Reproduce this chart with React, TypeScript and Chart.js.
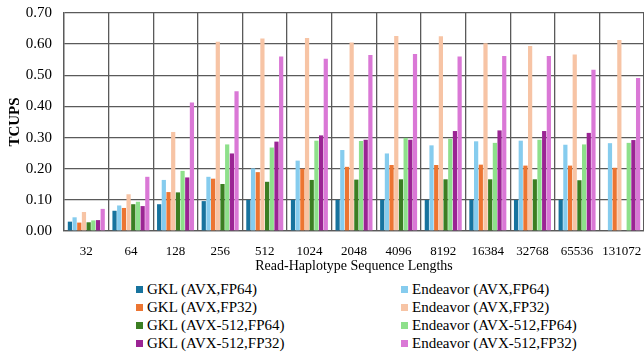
import React, { useEffect, useRef } from "react";
import { Chart, registerables } from "chart.js";

Chart.register(...registerables);

const categories = ["32", "64", "128", "256", "512", "1024", "2048", "4096", "8192", "16384", "32768", "65536", "131072"];

const gklAvxFp64 = [0.030, 0.065, 0.086, 0.096, 0.100, 0.100, 0.100, 0.100, 0.100, 0.100, 0.100, 0.100, null];
const endAvxFp64 = [0.044, 0.082, 0.164, 0.174, 0.201, 0.226, 0.260, 0.249, 0.275, 0.288, 0.290, 0.277, 0.282];
const gklAvxFp32 = [0.027, 0.074, 0.125, 0.168, 0.189, 0.200, 0.206, 0.212, 0.212, 0.213, 0.210, 0.210, 0.203];
const endAvxFp32 = [0.061, 0.118, 0.318, 0.608, 0.618, 0.620, 0.605, 0.626, 0.625, 0.603, 0.594, 0.567, 0.613];
const gklAvx512Fp64 = [0.028, 0.086, 0.124, 0.151, 0.158, 0.164, 0.165, 0.166, 0.166, 0.166, 0.166, 0.163, null];
const endAvx512Fp64 = [0.034, 0.094, 0.193, 0.278, 0.268, 0.290, 0.289, 0.299, 0.296, 0.283, 0.293, 0.278, 0.283];
const gklAvx512Fp32 = [0.035, 0.080, 0.172, 0.249, 0.287, 0.307, 0.293, 0.293, 0.321, 0.323, 0.321, 0.315, 0.292];
const endAvx512Fp32 = [0.071, 0.174, 0.413, 0.449, 0.560, 0.553, 0.565, 0.568, 0.560, 0.562, 0.562, 0.518, 0.491];

const yTicks = [0, 0.1, 0.2, 0.3, 0.4, 0.5, 0.6, 0.7];

const seriesNames = [
  "GKL (AVX,FP64)",
  "Endeavor (AVX,FP64)",
  "GKL (AVX,FP32)",
  "Endeavor (AVX,FP32)",
  "GKL (AVX-512,FP64)",
  "Endeavor (AVX-512,FP64)",
  "GKL (AVX-512,FP32)",
  "Endeavor (AVX-512,FP32)",
];
const seriesValues = [gklAvxFp64, endAvxFp64, gklAvxFp32, endAvxFp32, gklAvx512Fp64, endAvx512Fp64, gklAvx512Fp32, endAvx512Fp32];
const seriesColors = ["#17739e", "#86ccee", "#ec7532", "#f7c4a5", "#3b7e22", "#8ee08b", "#9b2494", "#da78d6"];

const FONT = "'Times New Roman', 'Liberation Serif', Tinos, 'DejaVu Serif', serif";
const GRID = "#5a5a5a";

export default function App() {
  const ref = useRef<HTMLCanvasElement | null>(null);

  useEffect(() => {
    document.body.style.margin = "0";
    const ctx = ref.current!.getContext("2d")!;
    const chart = new Chart(ctx, {
      type: "bar",
      data: {
        labels: categories,
        datasets: seriesNames.map((name, i) => ({
          label: name,
          data: seriesValues[i],
          backgroundColor: seriesColors[i],
          borderWidth: 0,
          categoryPercentage: 0.84,
          barPercentage: 0.9,
        })),
      },
      options: {
        animation: false,
        responsive: false,
        maintainAspectRatio: false,
        layout: { padding: { left: 0, right: 0, top: 13, bottom: 0 } },
        plugins: { legend: { display: false }, tooltip: { enabled: false } },
        scales: {
          x: {
            offset: true,
            grid: {
              offset: true,
              color: (c: any) => (c.index >= categories.length ? "rgba(0,0,0,0)" : GRID),
              lineWidth: 1.3,
              drawTicks: false,
            },
            border: { color: GRID, width: 1.3 },
            ticks: { color: "#000", font: { family: FONT, size: 13 }, padding: 13, maxRotation: 0, autoSkip: false },
            title: { display: true, text: "Read-Haplotype Sequence Lengths", color: "#000", font: { family: FONT, size: 14 }, padding: { top: 0, bottom: 0 } },
            afterFit: (s: any) => { s.height = 44; s.paddingLeft = 0; s.paddingRight = 0; },
          },
          y: {
            min: 0,
            max: 0.7,
            afterBuildTicks: (s: any) => { s.ticks = yTicks.map((v) => ({ value: v })); },
            grid: { color: GRID, lineWidth: 1.3, drawTicks: false },
            border: { color: GRID, width: 1.3 },
            ticks: { color: "#000", font: { family: FONT, size: 15 }, padding: 12, callback: (v: any) => Number(v).toFixed(2) },
            title: { display: true, text: "TCUPS", color: "#000", font: { family: FONT, size: 15, weight: "bold" }, padding: { top: 6, bottom: 0 } },
            afterFit: (s: any) => { s.width = 64; s.paddingTop = 0; s.paddingBottom = 0; },
          },
        },
      },
    });
    return () => chart.destroy();
  }, []);

  const rows = [0, 1, 2, 3];
  return (
    <div style={{ position: "fixed", left: 0, top: 0, width: 644, height: 354, overflow: "hidden", background: "#fff" }}>
      <canvas ref={ref} width={644} height={275} style={{ display: "block", width: 644, height: 275 }} />
      {rows.map((r) =>
        [0, 1].map((c) => {
          const i = r * 2 + c;
          return (
            <div
              key={i}
              style={{
                position: "absolute",
                left: c === 0 ? 136 : 401,
                top: 280 + r * 18,
                height: 18,
                display: "flex",
                alignItems: "center",
                fontFamily: FONT,
                fontSize: 15,
                color: "#000",
                whiteSpace: "nowrap",
              }}
            >
              <span style={{ display: "inline-block", width: 7, height: 7, background: seriesColors[i], marginRight: 4 }} />
              {seriesNames[i]}
            </div>
          );
        })
      )}
    </div>
  );
}
